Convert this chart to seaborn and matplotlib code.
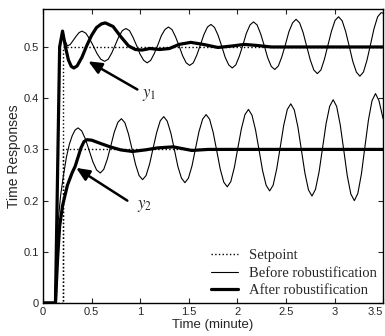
import matplotlib
matplotlib.use("Agg")
import matplotlib.pyplot as plt
import seaborn as sns

# setpoint steps
t_setpoint = [0, 0.2, 0.2, 3.5]
sp_y1 = [0, 0, 0.5, 0.5]
sp_y2 = [0, 0, 0.3, 0.3]

# y1 before robustification
t_y1_before = [0, 0.127, 0.17, 0.200, 0.22, 0.25, 0.28, 0.31, 0.34, 0.37,
               0.400, 0.439, 0.478, 0.517, 0.555, 0.594, 0.633,
               0.670, 0.706, 0.743, 0.779, 0.816, 0.852,
               0.889, 0.925, 0.962, 0.998, 1.035, 1.071,
               1.108, 1.144, 1.181, 1.217, 1.254, 1.290,
               1.327, 1.363, 1.400, 1.436, 1.473, 1.509,
               1.546, 1.582, 1.619, 1.655, 1.692, 1.728,
               1.765, 1.801, 1.838, 1.874, 1.911, 1.947,
               1.984, 2.020, 2.057, 2.093, 2.130, 2.166,
               2.203, 2.239, 2.276, 2.312, 2.349, 2.385,
               2.422, 2.458, 2.495, 2.531, 2.568, 2.604,
               2.641, 2.677, 2.714, 2.750, 2.787, 2.823,
               2.860, 2.896, 2.933, 2.969, 3.006, 3.042,
               3.079, 3.115, 3.152, 3.188, 3.225, 3.261,
               3.298, 3.334, 3.371, 3.407, 3.444, 3.480,
               3.500]
y1_before = [0, 0, 0.50, 0.531, 0.515, 0.502, 0.505, 0.513, 0.521, 0.528,
             0.531, 0.527, 0.516, 0.502, 0.487, 0.476, 0.472,
             0.476, 0.488, 0.504, 0.520, 0.532, 0.536,
             0.532, 0.519, 0.503, 0.486, 0.474, 0.469,
             0.474, 0.487, 0.504, 0.522, 0.534, 0.539,
             0.534, 0.520, 0.502, 0.483, 0.469, 0.464,
             0.469, 0.484, 0.504, 0.524, 0.539, 0.544,
             0.538, 0.523, 0.502, 0.480, 0.465, 0.459,
             0.465, 0.482, 0.504, 0.527, 0.543, 0.549,
             0.543, 0.526, 0.503, 0.479, 0.462, 0.456,
             0.463, 0.481, 0.505, 0.530, 0.547, 0.554,
             0.547, 0.528, 0.501, 0.475, 0.455, 0.448,
             0.455, 0.476, 0.504, 0.531, 0.552, 0.559,
             0.551, 0.530, 0.501, 0.472, 0.451, 0.443,
             0.451, 0.474, 0.505, 0.536, 0.559, 0.567,
             0.566]

# y1 after robustification
t_y1_after = [0, 0.127, 0.17, 0.20, 0.23, 0.26, 0.29, 0.317, 0.35, 0.40, 0.45,
              0.50, 0.55, 0.60, 0.64, 0.72, 0.80, 0.88, 0.95, 1.02, 1.10, 1.2,
              1.3, 1.4, 1.52, 1.65, 1.8, 1.95, 2.07, 2.2, 2.35, 3.5]
y1_after = [0, 0, 0.50, 0.531, 0.50, 0.475, 0.462, 0.459, 0.463, 0.48, 0.503,
            0.523, 0.538, 0.545, 0.547, 0.54, 0.52, 0.502, 0.495, 0.494, 0.497, 0.495,
            0.497, 0.505, 0.509, 0.505, 0.499, 0.502, 0.505, 0.503, 0.500, 0.500]

# y2 before robustification
t_y2_before = [0, 0.127, 0.14, 0.155, 0.18, 0.21, 0.24, 0.27, 0.30, 0.33,
               0.360, 0.398, 0.436, 0.474, 0.512, 0.550, 0.588,
               0.624, 0.661, 0.697, 0.733, 0.770, 0.806,
               0.842, 0.879, 0.915, 0.951, 0.988, 1.024,
               1.060, 1.097, 1.133, 1.169, 1.206, 1.242,
               1.278, 1.315, 1.351, 1.387, 1.424, 1.460,
               1.496, 1.533, 1.569, 1.605, 1.642, 1.678,
               1.714, 1.751, 1.787, 1.823, 1.860, 1.896,
               1.932, 1.969, 2.005, 2.041, 2.078, 2.114,
               2.150, 2.187, 2.223, 2.259, 2.296, 2.332,
               2.368, 2.405, 2.441, 2.477, 2.514, 2.550,
               2.586, 2.623, 2.659, 2.695, 2.732, 2.768,
               2.804, 2.841, 2.877, 2.913, 2.950, 2.986,
               3.022, 3.059, 3.095, 3.131, 3.168, 3.204,
               3.240, 3.277, 3.313, 3.349, 3.386, 3.422,
               3.458, 3.500]
y2_before = [0, 0, 0.09, 0.16, 0.21, 0.25, 0.285, 0.31, 0.327, 0.338,
             0.342, 0.336, 0.320, 0.298, 0.276, 0.260, 0.254,
             0.261, 0.281, 0.307, 0.334, 0.353, 0.360,
             0.352, 0.330, 0.301, 0.271, 0.249, 0.241,
             0.249, 0.272, 0.303, 0.333, 0.356, 0.364,
             0.355, 0.332, 0.300, 0.267, 0.244, 0.235,
             0.244, 0.268, 0.302, 0.335, 0.359, 0.368,
             0.359, 0.333, 0.298, 0.262, 0.236, 0.227,
             0.237, 0.265, 0.303, 0.340, 0.368, 0.378,
             0.367, 0.338, 0.299, 0.259, 0.230, 0.219,
             0.230, 0.262, 0.304, 0.347, 0.378, 0.389,
             0.377, 0.344, 0.299, 0.254, 0.221, 0.209,
             0.222, 0.256, 0.303, 0.350, 0.384, 0.397,
             0.384, 0.348, 0.299, 0.249, 0.213, 0.200,
             0.214, 0.252, 0.305, 0.357, 0.395, 0.409,
             0.395, 0.360]

# y2 after robustification
t_y2_after = [0, 0.127, 0.15, 0.17, 0.2, 0.25, 0.30, 0.33, 0.36, 0.39, 0.42, 0.45,
              0.5, 0.6, 0.69, 0.8, 0.92, 1.05, 1.18, 1.34, 1.53, 1.7, 3.5]
y2_after = [0, 0, 0.09, 0.15, 0.19, 0.23, 0.255, 0.267, 0.285, 0.303, 0.315, 0.319,
            0.318, 0.311, 0.305, 0.299, 0.296, 0.299, 0.303, 0.305, 0.298, 0.300, 0.300]

x_ticks = [0, 0.5, 1, 1.5, 2, 2.5, 3, 3.5]
x_labels = ['0', '0.5', '1', '1.5', '2', '2.5', '3', '3.5']
y_ticks = [0, 0.1, 0.2, 0.3, 0.4, 0.5]
y_labels = ['0', '0.1', '0.2', '0.3', '0.4', '0.5']

sns.set_style("ticks")
plt.rcParams['font.family'] = ['Liberation Sans', 'DejaVu Sans']
plt.rcParams['mathtext.fontset'] = 'stix'

fig = plt.figure(figsize=(3.85, 3.36), dpi=100)
ax = fig.add_axes([0.112, 0.098, 0.883, 0.875])

thin = 0.8
thick = 2.3
sns.lineplot(x=t_setpoint, y=sp_y1, ax=ax, color='k', lw=1.0, linestyle=':',
             estimator=None, sort=False, label='Setpoint')
sns.lineplot(x=t_setpoint, y=sp_y2, ax=ax, color='k', lw=1.0, linestyle=':',
             estimator=None, sort=False)
sns.lineplot(x=t_y1_before, y=y1_before, ax=ax, color='k', lw=thin,
             estimator=None, sort=False, label='Before robustification')
sns.lineplot(x=t_y2_before, y=y2_before, ax=ax, color='k', lw=thin,
             estimator=None, sort=False)
sns.lineplot(x=t_y1_after, y=y1_after, ax=ax, color='k', lw=thick,
             estimator=None, sort=False, label='After robustification')
sns.lineplot(x=t_y2_after, y=y2_after, ax=ax, color='k', lw=thick,
             estimator=None, sort=False)

ax.set_xlim(0, 3.5)
ax.set_ylim(0, 0.574)
ax.set_xticks(x_ticks)
ax.set_xticklabels(x_labels)
ax.set_yticks(y_ticks)
ax.set_yticklabels(y_labels)
ax.tick_params(direction='in', top=True, right=True, length=3.5, width=0.8,
               labelsize=8, pad=3)
ax.get_xticklabels()[-1].set_horizontalalignment('right')
for s in ax.spines.values():
    s.set_linewidth(1.0)
    s.set_color('k')

ax.set_xlabel('Time (minute)', fontsize=9.5, labelpad=1)
ax.set_ylabel('Time Responses', fontsize=10, labelpad=2)

# arrows and labels
arrow = dict(arrowstyle='-|>,head_length=0.8,head_width=0.35', color='k', lw=1.8,
             shrinkA=0, shrinkB=0)
ax.annotate('', xy=(0.465, 0.472), xytext=(0.97, 0.417), arrowprops=arrow)
ax.text(1.02, 0.407, r'$y_1$', fontsize=12, ha='left', va='center')
ax.annotate('', xy=(0.34, 0.264), xytext=(0.867, 0.20), arrowprops=arrow)
ax.text(0.97, 0.19, r'$y_2$', fontsize=12, ha='left', va='center')

ax.legend(loc='lower right', frameon=False, prop={'family': 'Liberation Serif', 'size': 10.5},
          handlelength=1.8, handletextpad=0.8, labelspacing=0.3,
          borderaxespad=0.2, borderpad=0.2)

fig.savefig('out.png', dpi=100)
